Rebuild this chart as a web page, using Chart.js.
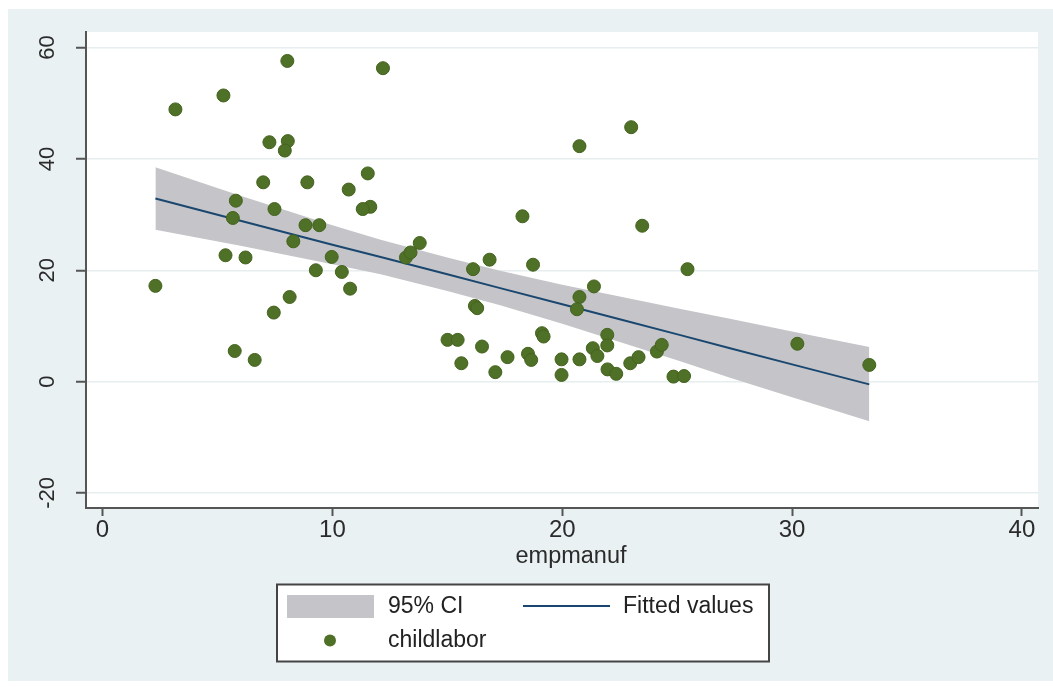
<!DOCTYPE html>
<html><head><meta charset="utf-8">
<script src="https://cdn.jsdelivr.net/npm/chart.js@4.4.1/dist/chart.umd.min.js"></script>
<style>html,body{margin:0;padding:0;background:#fff;} canvas{display:block;}</style>
</head><body>
<canvas id="c" width="1053" height="687"></canvas>
<script>
// ---- data ----
const empmanuf = [2.3, 3.17, 5.26, 8.04, 12.2, 7.26, 8.06, 7.93, 6.99, 8.91,
  11.54, 10.71, 5.80, 7.48, 11.65, 11.32, 5.67, 8.83, 9.43, 8.30,
  5.35, 6.22, 9.97, 9.28, 10.41, 10.77, 8.14, 7.45, 5.75, 6.62,
  13.2, 13.4, 13.8, 18.27, 23.48, 25.45, 16.84, 16.12, 18.73, 21.38,
  20.75, 20.64, 16.2, 16.3, 15.01, 15.45, 16.51, 19.12, 19.19, 15.61,
  17.09, 17.62, 18.51, 18.65, 19.97, 19.97, 20.75, 21.33, 21.53, 21.96,
  21.96, 21.97, 22.35, 22.96, 23.32, 24.12, 24.33, 24.84, 25.3, 20.75,
  23.0, 30.23, 33.36];
const childlabor = [17.2, 48.9, 51.4, 57.6, 56.3, 43.0, 43.2, 41.5, 35.8, 35.8,
  37.4, 34.5, 32.5, 31.0, 31.4, 31.0, 29.4, 28.1, 28.1, 25.2,
  22.7, 22.3, 22.4, 20.0, 19.7, 16.7, 15.2, 12.4, 5.5, 3.9,
  22.3, 23.2, 24.9, 29.7, 28.0, 20.2, 21.9, 20.2, 21.0, 17.1,
  15.2, 13.0, 13.6, 13.2, 7.5, 7.5, 6.3, 8.7, 8.1, 3.3,
  1.7, 4.4, 5.0, 3.9, 4.0, 1.2, 4.0, 6.0, 4.6, 8.4,
  6.5, 2.2, 1.4, 3.3, 4.4, 5.4, 6.6, 0.9, 1.0, 42.3,
  45.7, 6.8, 3.0];
const fitX    = [2.3, 6, 10, 12.1, 15, 17.3, 20, 22.5, 25.1, 27.3, 30, 33.36];
const fitted  = [32.9, 28.9, 24.6, 22.4, 19.3, 16.8, 13.9, 11.2, 8.4, 6.0, 3.1, -0.5];
const ciUpper = [38.5, 33.4, 28.1, 25.5, 22.3, 19.9, 17.4, 15.3, 13.1, 11.3, 9.0, 6.2];
const ciLower = [27.3, 24.4, 21.1, 19.3, 16.3, 13.7, 10.4, 7.1, 3.7, 0.7, -2.8, -7.1];
const xTicks = [0, 10, 20, 30, 40];
const yTicks = [-20, 0, 20, 40, 60];
const xTitle = 'empmanuf';
const legendLabels = ['95% CI', 'Fitted values', 'childlabor'];

// ---- styles ----
const FONT = "'Liberation Sans', Arial, Helvetica, sans-serif";
const GREEN = '#4f7027', GREEN_EDGE = '#45631f', NAVY = '#1a476f', CIGRAY = '#c5c5c9';
const PANEL = '#e9f1f3', AXIS = '#555555', TEXT = '#2b2b2b';

const bgPlugin = {
  id: 'bg',
  beforeDraw(chart) {
    const ctx = chart.ctx, a = chart.chartArea;
    ctx.save();
    ctx.fillStyle = '#ffffff';
    ctx.fillRect(0, 0, chart.width, chart.height);
    ctx.fillStyle = PANEL;
    ctx.fillRect(8, 9, chart.width - 8, 672);
    ctx.fillStyle = '#ffffff';
    ctx.fillRect(a.left, a.top, a.right - a.left, a.bottom - a.top);
    ctx.restore();
  }
};

const textPlugin = {
  id: 'axisText',
  afterDraw(chart) {
    const ctx = chart.ctx, s = chart.scales.y;
    ctx.save();
    ctx.font = '22px ' + FONT;
    ctx.fillStyle = TEXT;
    ctx.textAlign = 'center';
    ctx.textBaseline = 'middle';
    s.ticks.forEach(t => {
      const y = s.getPixelForValue(t.value);
      ctx.save();
      ctx.translate(48, y);
      ctx.rotate(-Math.PI / 2);
      ctx.fillText(t.label, 0, 0);
      ctx.restore();
    });
    // x axis title
    ctx.font = '23.5px ' + FONT;
    ctx.fillText(xTitle, 571, 557);
    ctx.restore();
  }
};

const legendPlugin = {
  id: 'stataLegend',
  afterDraw(chart) {
    const ctx = chart.ctx, ds = chart.data.datasets;
    ctx.save();
    ctx.fillStyle = '#ffffff';
    ctx.fillRect(277, 584.5, 492, 77);
    ctx.strokeStyle = '#444444';
    ctx.lineWidth = 2;
    ctx.strokeRect(277, 584.5, 492, 77);
    ctx.fillStyle = ds[2].backgroundColor;
    ctx.fillRect(287, 595, 87, 23);
    ctx.strokeStyle = ds[1].borderColor;
    ctx.lineWidth = 2;
    ctx.beginPath(); ctx.moveTo(523, 606); ctx.lineTo(610, 606); ctx.stroke();
    ctx.fillStyle = ds[0].backgroundColor;
    ctx.beginPath(); ctx.arc(330, 640.5, 6, 0, Math.PI * 2); ctx.fill();
    ctx.font = '23px ' + FONT;
    ctx.fillStyle = '#222222';
    ctx.textAlign = 'left';
    ctx.textBaseline = 'middle';
    ctx.fillText(legendLabels[0], 388, 607);
    ctx.fillText(legendLabels[1], 623, 607);
    ctx.fillText(legendLabels[2], 388, 641);
    ctx.restore();
  }
};

new Chart(document.getElementById('c'), {
  type: 'scatter',
  data: {
    datasets: [
      { type: 'scatter', label: legendLabels[2],
        data: empmanuf.map((x, i) => ({ x: x, y: childlabor[i] })),
        backgroundColor: GREEN, borderColor: GREEN_EDGE, borderWidth: 1, pointRadius: 6.5, order: 1 },
      { type: 'line', label: legendLabels[1],
        data: fitX.map((x, i) => ({ x: x, y: fitted[i] })),
        borderColor: NAVY, borderWidth: 2, pointRadius: 0, fill: false, tension: 0, order: 2 },
      { type: 'line', label: legendLabels[0],
        data: fitX.map((x, i) => ({ x: x, y: ciUpper[i] })),
        borderColor: 'rgba(0,0,0,0)', borderWidth: 0, backgroundColor: CIGRAY,
        pointRadius: 0, fill: '+1', tension: 0, order: 3 },
      { type: 'line', label: 'ci_lower',
        data: fitX.map((x, i) => ({ x: x, y: ciLower[i] })),
        borderColor: 'rgba(0,0,0,0)', borderWidth: 0, pointRadius: 0, fill: false, tension: 0, order: 4 }
    ]
  },
  options: {
    responsive: false,
    animation: false,
    devicePixelRatio: 1,
    layout: { padding: { left: 0, top: 32, right: 15, bottom: 116 } },
    plugins: { legend: { display: false }, tooltip: { enabled: false } },
    scales: {
      x: {
        type: 'linear', min: -0.72, max: 40.7,
        afterBuildTicks: s => { s.ticks = xTicks.map(v => ({ value: v })); },
        afterFit: s => { s.height = 63; },
        grid: { drawOnChartArea: false, drawTicks: true, tickLength: 8, tickColor: AXIS, tickWidth: 2 },
        border: { display: true, color: AXIS, width: 2 },
        ticks: { font: { size: 24, family: FONT }, color: TEXT, padding: 0, maxRotation: 0, autoSkip: false },
        title: { display: false }
      },
      y: {
        type: 'linear', min: -22.7, max: 62.8,
        afterBuildTicks: s => { s.ticks = yTicks.map(v => ({ value: v })); },
        afterFit: s => { s.width = 86; },
        grid: { color: '#e6eef0', lineWidth: 1.5, drawTicks: true, tickLength: 10, tickColor: AXIS, tickWidth: 2 },
        border: { display: true, color: AXIS, width: 2 },
        ticks: { display: false }
      }
    }
  },
  plugins: [bgPlugin, textPlugin, legendPlugin]
});
</script>
</body></html>
